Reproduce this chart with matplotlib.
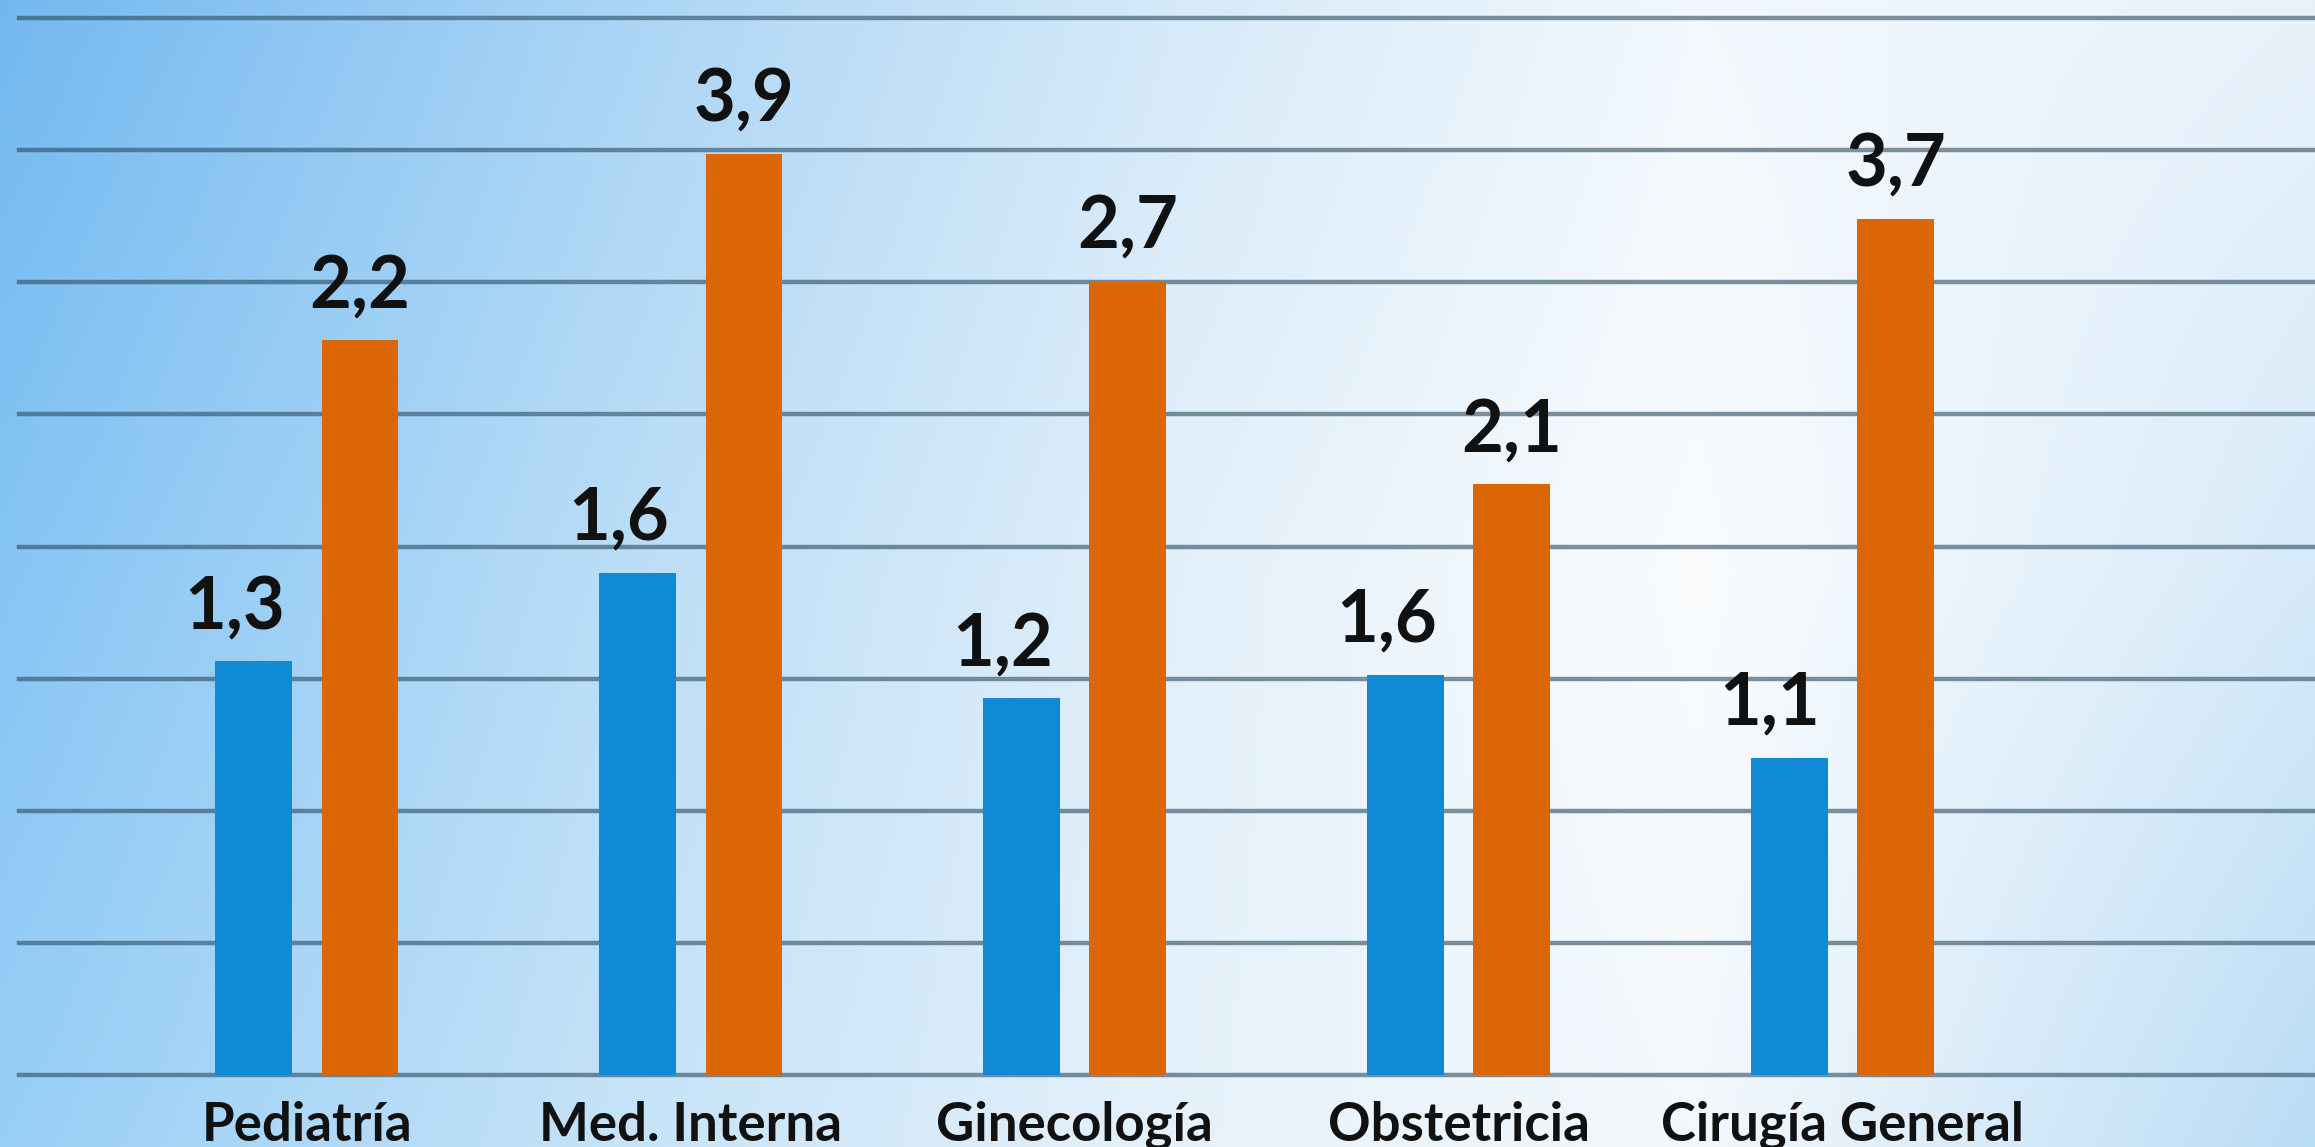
import numpy as np
import matplotlib
matplotlib.use("Agg")
import matplotlib.pyplot as plt
from matplotlib.colors import to_rgb
from matplotlib.transforms import blended_transform_factory

# ---- data ----
categories = ["Pediatría", "Med. Interna", "Ginecología", "Obstetricia", "Cirugía General"]
blue_values = [1.3, 1.6, 1.2, 1.6, 1.1]          # printed labels
orange_values = [2.2, 3.9, 2.7, 2.1, 3.7]        # printed labels
# bar heights as drawn, measured in grid-line units
blue_heights = [3.13, 3.80, 2.85, 3.03, 2.40]
orange_heights = [5.56, 6.97, 6.01, 4.47, 6.48]
grid_levels = [0, 1, 2, 3, 4, 5, 6, 7, 8]

BLUE = "#118ad6"
ORANGE = "#db6603"
FONT = ["Lato", "DejaVu Sans"]

W, H, DPI = 2315, 1147, 100
fig = plt.figure(figsize=(W / DPI, H / DPI), dpi=DPI)

# ---- gradient background (colour control points across the canvas) ----
bg_x = [0.0, 0.255, 0.51, 0.733, 1.0]
bg_y = [0.0, 0.5, 1.0]
bg_cols = [
    ["#72b8f0", "#a8d3f5", "#d6eaf9", "#f2f8fd", "#e8f2fb"],
    ["#86c5f4", "#b8dcf7", "#e3f0fa", "#fafcfe", "#d6eaf9"],
    ["#98cff6", "#c4e2f8", "#e6f2fb", "#f3f8fc", "#b9dcf6"],
]
ctrl = np.array([[to_rgb(c) for c in row] for row in bg_cols])
nx, ny = 800, 400
xs = np.linspace(0, 1, nx)
ys = np.linspace(0, 1, ny)
rows = np.stack([np.stack([np.interp(xs, bg_x, ctrl[r, :, ch]) for ch in range(3)], -1)
                 for r in range(len(bg_y))])
img = np.stack([np.stack([np.interp(ys, bg_y, rows[:, i, ch]) for ch in range(3)], -1)
                for i in range(nx)], 1)
bg = fig.add_axes([0, 0, 1, 1], zorder=-10)
bg.imshow(img, aspect="auto", extent=[0, 1, 1, 0], interpolation="bilinear")
bg.set_xlim(0, 1)
bg.set_ylim(1, 0)
bg.axis("off")

# ---- main axes ----
left = 19 / W
bottom = 1 - 1075 / H
top = 1 - 18 / H
ax = fig.add_axes([left, bottom, 1 - left, top - bottom])
ax.patch.set_alpha(0)
for s in ax.spines.values():
    s.set_visible(False)

x = np.arange(len(categories))
bw = 0.2
off = 0.1385
for g in grid_levels:
    ax.axhline(g, color="#2a4a60", alpha=0.6, lw=3.2, zorder=1, clip_on=False)

ax.bar(x - off, blue_heights, width=bw, color=BLUE, zorder=3)
ax.bar(x + off, orange_heights, width=bw, color=ORANGE, zorder=3)

for xi, h, val in zip(x, blue_heights, blue_values):
    ax.annotate(f"{val:.1f}".replace(".", ","), (xi - off - 0.05, h), xytext=(0, 24),
                textcoords="offset points", ha="center", va="baseline",
                fontsize=52, fontweight="bold", family=FONT, color="#111111", zorder=5)
for xi, h, val in zip(x, orange_heights, orange_values):
    ax.annotate(f"{val:.1f}".replace(".", ","), (xi + off, h), xytext=(0, 24),
                textcoords="offset points", ha="center", va="baseline",
                fontsize=52, fontweight="bold", family=FONT, color="#111111", zorder=5)

trans = blended_transform_factory(ax.transData, fig.transFigure)
for xi, name in zip(x, categories):
    ax.text(xi, 1 - 1141 / H, name, transform=trans, ha="center", va="baseline",
            fontsize=38, fontweight="bold", family=FONT, color="#111111")

ax.set_xlim(-0.75, 5.231)
ax.set_ylim(0, 8)
ax.set_xticks([])
ax.set_yticks([])

fig.savefig("out.png", dpi=DPI)
